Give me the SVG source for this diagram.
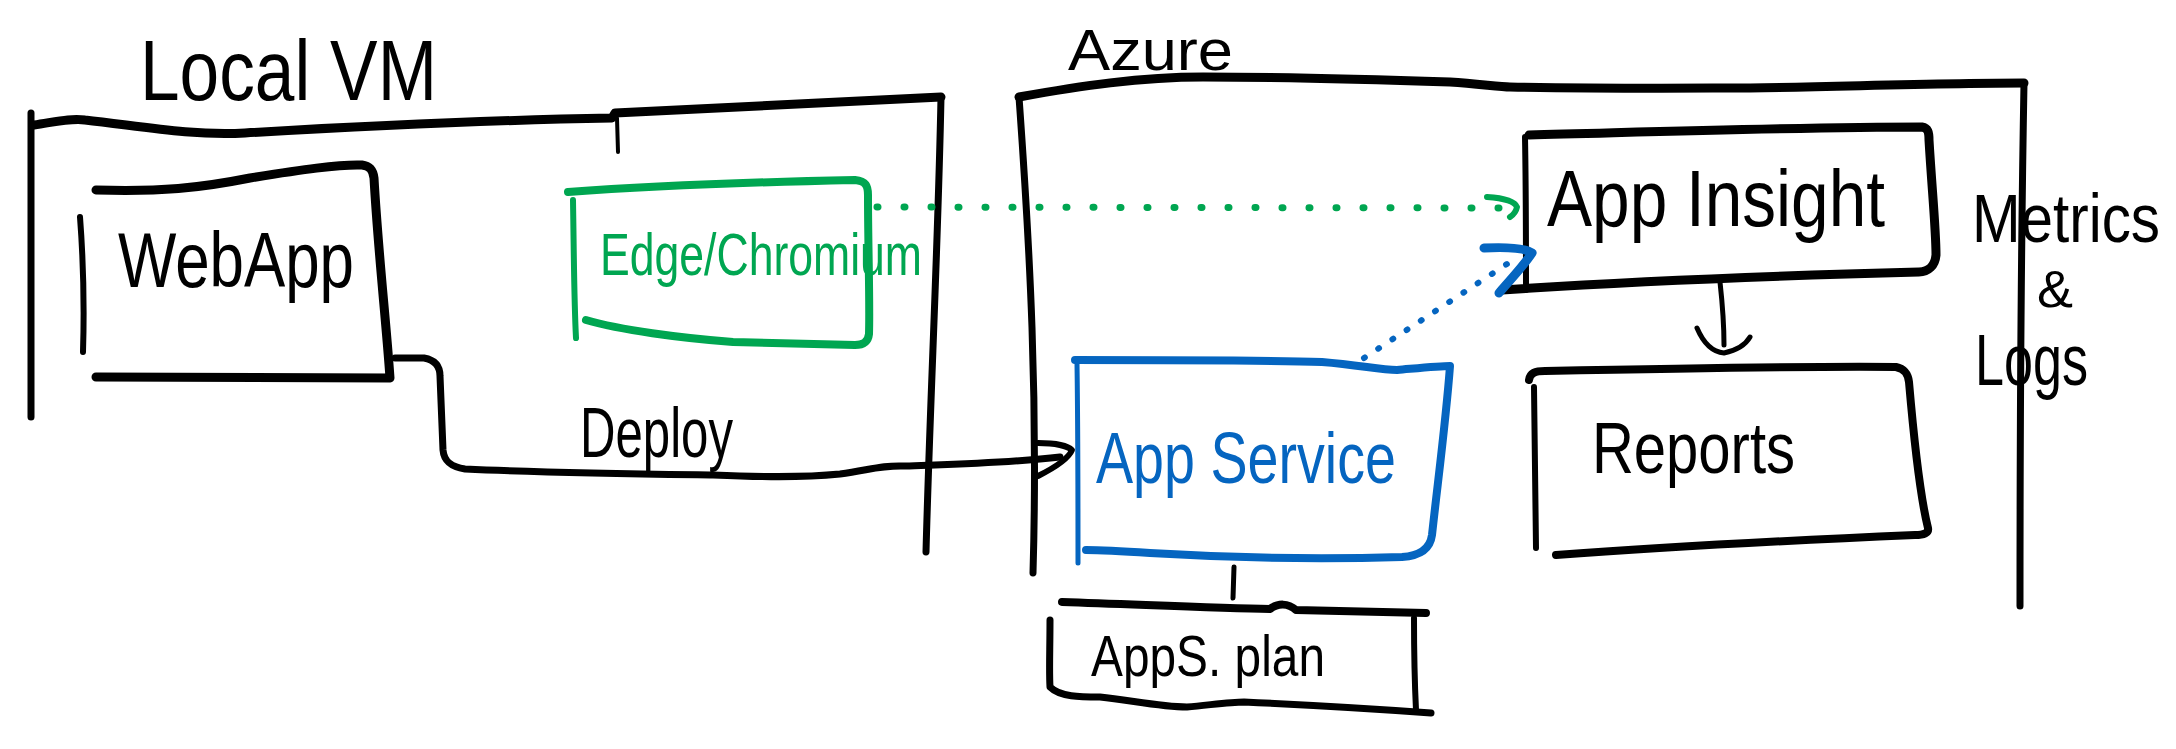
<svg xmlns="http://www.w3.org/2000/svg" width="2176" height="749" viewBox="0 0 2176 749">
<defs>
<style>
.k{fill:none;stroke:#000;stroke-linecap:round;stroke-linejoin:round}
.g{fill:none;stroke:#00a651;stroke-linecap:round;stroke-linejoin:round}
.b{fill:none;stroke:#0565c0;stroke-linecap:round;stroke-linejoin:round}
.t{font-family:"Liberation Sans",Arial,sans-serif;fill:#000}
</style>
</defs>
<rect width="2176" height="749" fill="#fff"/>

<g id="local-vm">
<text class="t" x="140" y="100" font-size="86" textLength="297" lengthAdjust="spacingAndGlyphs">Local VM</text>
<path class="k" stroke-width="7" d="M31,113 L31,417"/>
<path class="k" stroke-width="9" d="M34,125 C55,122 70,118 85,120 C140,126 190,136 245,133 C380,125 500,120 612,118 L615,113 C700,108 800,103 941,97"/>
<path class="k" stroke-width="4" d="M617,118 L618,152"/>
<path class="k" stroke-width="7" d="M941,97 C938,250 930,400 926,552"/>
</g>

<g id="azure">
<text class="t" x="1068" y="70" font-size="58" textLength="165" lengthAdjust="spacingAndGlyphs">Azure</text>
<path class="k" stroke-width="9" d="M1019,97 C1080,86 1140,77 1203,77 C1300,77 1390,80 1450,82 C1480,84 1500,87 1510,87 C1620,89 1700,88 1750,88 C1860,86 1950,83 2024,83"/>
<path class="k" stroke-width="7" d="M1019,97 C1030,250 1038,400 1033,573"/>
<path class="k" stroke-width="7" d="M2024,83 C2021,250 2020,450 2020,606"/>
</g>

<g id="webapp">
<path class="k" stroke-width="9" d="M96,190 C160,192 200,188 250,178 C300,170 340,164 362,165 C370,166 373,170 374,178 C378,250 386,320 390,378 L96,377"/>
<path class="k" stroke-width="6" d="M80,217 C84,270 84,320 83,352"/>
<text class="t" x="118" y="287" font-size="78" textLength="236" lengthAdjust="spacingAndGlyphs">WebApp</text>
</g>

<g id="edge">
<path class="g" stroke-width="8" d="M568,192 C650,186 760,182 855,180 C866,181 868,186 868,195 C868,250 870,300 869,334 C868,343 862,345 855,345 C800,344 760,343 733,342 C680,338 620,330 586,320"/>
<path class="g" stroke-width="6" d="M573,200 C574,260 574,300 576,338"/>
<text x="600" y="275" font-family="Liberation Sans,Arial,sans-serif" font-size="60" fill="#00a651" textLength="322" lengthAdjust="spacingAndGlyphs">Edge/Chromium</text>
</g>

<g id="app-insight">
<path class="k" stroke-width="9" d="M1529,135 C1650,132 1800,127 1922,127 C1928,128 1929,132 1929,140 C1932,190 1936,230 1936,255 C1935,266 1928,272 1919,272 C1800,275 1650,280 1502,290"/>
<path class="k" stroke-width="6" d="M1525,137 C1526,190 1526,240 1526,290"/>
<text class="t" x="1547" y="226" font-size="80" textLength="338" lengthAdjust="spacingAndGlyphs">App Insight</text>
</g>

<g id="metrics-logs">
<text class="t" x="1972" y="242" font-size="68" textLength="188" lengthAdjust="spacingAndGlyphs">Metrics</text>
<text class="t" x="2037" y="307" font-size="52" textLength="36" lengthAdjust="spacingAndGlyphs">&amp;</text>
<text class="t" x="1975" y="385" font-size="72" textLength="113" lengthAdjust="spacingAndGlyphs">Logs</text>
</g>

<g id="reports">
<path class="k" stroke-width="8" d="M1529,380 C1530,373 1535,371 1545,371 C1700,368 1820,366 1896,367 C1905,369 1908,374 1909,382 C1914,440 1921,500 1928,528 C1929,533 1924,535 1915,535 C1800,540 1650,548 1556,555"/>
<path class="k" stroke-width="6" d="M1534,387 C1535,450 1536,510 1536,548"/>
<text class="t" x="1592" y="473" font-size="72" textLength="203" lengthAdjust="spacingAndGlyphs">Reports</text>
</g>

<g id="app-service">
<path class="b" stroke-width="8" d="M1075,360 C1150,360 1260,360 1322,362 C1360,365 1380,370 1397,370 C1420,368 1440,366 1450,366 C1446,420 1438,480 1432,535 C1430,550 1418,556 1402,557 C1300,560 1200,556 1150,553 C1120,551 1100,550 1086,550"/>
<path class="b" stroke-width="5" d="M1077,364 C1078,430 1078,500 1078,563"/>
<text x="1096" y="483" font-family="Liberation Sans,Arial,sans-serif" font-size="72" fill="#0565c0" textLength="300" lengthAdjust="spacingAndGlyphs">App Service</text>
</g>

<g id="apps-plan">
<path class="k" stroke-width="8" d="M1062,602 C1150,605 1220,608 1270,609 C1278,603 1288,603 1296,610 C1350,611 1400,612 1426,613"/>
<path class="k" stroke-width="7" d="M1050,620 C1050,650 1049,670 1050,687 C1060,697 1080,697 1100,697 C1130,700 1160,707 1187,707 C1210,705 1230,702 1244,702 C1330,706 1390,710 1431,713"/>
<path class="k" stroke-width="6" d="M1414,618 C1414,660 1415,690 1416,710"/>
<text class="t" x="1091" y="676" font-size="58" textLength="234" lengthAdjust="spacingAndGlyphs">AppS. plan</text>
</g>

<g id="connectors">
<path class="k" stroke-width="7" d="M395,358 L424,358 C435,360 440,366 440,376 L443,450 C444,462 452,467 465,469 C550,473 640,474 713,475 C760,477 800,478 840,474 C870,470 880,465 905,466 C960,464 1010,463 1060,457"/>
<path class="k" stroke-width="6" d="M1038,443 C1055,443 1068,446 1072,450 C1068,460 1050,470 1038,476"/>
<text class="t" x="580" y="457" font-size="70" textLength="153" lengthAdjust="spacingAndGlyphs">Deploy</text>
<path class="g" stroke-width="7" stroke-dasharray="1 26" d="M877,207 L1508,208"/>
<path class="g" stroke-width="6" d="M1487,197 C1505,198 1515,202 1517,207 C1516,212 1513,215 1510,217"/>
<path class="b" stroke-width="6" stroke-dasharray="1 16" d="M1364,358 L1510,262"/>
<path class="b" stroke-width="9" d="M1484,248 C1505,247 1525,248 1532,253 C1522,268 1508,282 1499,293"/>
<path class="k" stroke-width="5" d="M1720,282 C1722,300 1724,320 1724,345"/>
<path class="k" stroke-width="5" d="M1697,328 C1703,342 1712,352 1724,353 C1738,350 1746,344 1750,337"/>
<path class="k" stroke-width="5" d="M1234,567 L1233,598"/>
</g>
</svg>
